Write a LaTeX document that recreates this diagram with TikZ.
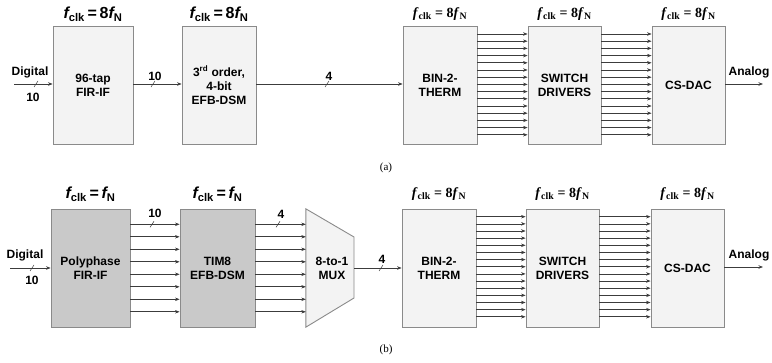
\documentclass[tikz,border=0pt]{standalone}
\usepackage{fontspec}
\setmainfont{Liberation Sans}
\newfontfamily\serifr{Liberation Serif}
\usetikzlibrary{arrows.meta}
\definecolor{bord}{HTML}{8A8A8A}
\definecolor{lightf}{HTML}{F3F3F3}
\definecolor{darkf}{HTML}{C9C9C9}
\definecolor{wire}{HTML}{3C3C3C}
\tikzset{
  blk/.style={draw=bord, line width=0.9pt, fill=lightf, minimum height=118pt, inner sep=0pt, align=center, font=\bfseries\fontsize{12}{14}\selectfont},
  gblk/.style={blk, fill=darkf},
  arr/.style={draw=wire, line width=0.6pt, -{Stealth[length=4.5pt,width=3.5pt]}},
  slashmark/.style={draw=wire, line width=0.5pt},
  lbl/.style={font=\bfseries\fontsize{12}{14}\selectfont, inner sep=0pt},
  fbig/.style={font=\bfseries\fontsize{16}{18}\selectfont, inner sep=0pt},
  fserst/.style={font=\serifr\bfseries\fontsize{14}{16}\selectfont, inner sep=0pt},
  captxt/.style={font=\serifr\fontsize{11}{13}\selectfont, inner sep=0pt}
}
\newcommand{\fbold}{{\bfseries\itshape f}\textsubscript{\bfseries clk}\,=\,8{\bfseries\itshape f}\textsubscript{\bfseries N}}
\newcommand{\fone}{{\bfseries\itshape f}\textsubscript{\bfseries clk}\,=\,{\bfseries\itshape f}\textsubscript{\bfseries N}}
\newcommand{\fser}{\textit{f}\textsubscript{clk} = 8\textit{f}\textsubscript{N}}
\begin{document}
\begin{tikzpicture}[x=1pt,y=-1pt]
\useasboundingbox (0,0) rectangle (772,363);
% ---------------- (a) ----------------
\node[blk, minimum width=80pt] (fira) at (93,85) {96-tap\\FIR-IF};
\node[blk, minimum width=74pt] (dsma) at (219,85) {3\textsuperscript{rd} order,\\4-bit\\EFB-DSM};
\node[blk, minimum width=74pt] (bina) at (440,85) {BIN-2-\\THERM};
\node[blk, minimum width=73pt] (swa) at (564.5,85) {SWITCH\\DRIVERS};
\node[blk, minimum width=73pt] (daca) at (688.5,85) {CS-DAC};
\node[fbig] (fa1) at (93,14) {\fbold};
\node[fbig] (fa2) at (219,14) {\fbold};
\node[fserst] (fa3) at (440,14) {\fser};
\node[fserst] (fa4) at (564.5,14) {\fser};
\node[fserst] (fa5) at (688.5,14) {\fser};
\coordinate (ina) at (14,84);
\coordinate (outa) at (763,84);
\draw[arr] (ina) -- (ina -| fira.west);
\draw[arr] (fira.east |- 0,84) -- (dsma.west |- 0,84);
\draw[arr] (dsma.east |- 0,84) -- (bina.west |- 0,84);
\draw[arr] (daca.east |- 0,84) -- (outa);
\draw[slashmark] (34,87) -- (38,81);
\draw[slashmark] (151,87) -- (155,81);
\draw[slashmark] (325,87) -- (329,81);
\node[lbl] (dga) at (30,72) {Digital};
\node[lbl] (tena) at (33,97) {10};
\node[lbl] (tenb) at (155,76) {10};
\node[lbl] (foura) at (329,76) {4};
\node[lbl, anchor=west] (ana) at (728.5,72) {Analog};
\foreach \i in {0,...,14}{
  \pgfmathsetmacro{\yy}{34+7.2*\i}
  \draw[arr] (bina.east |- 0,\yy) -- (swa.west |- 0,\yy);
  \draw[arr] (swa.east |- 0,\yy) -- (daca.west |- 0,\yy);
}
\node[captxt] (capa) at (386,168) {(a)};
% ---------------- (b) ----------------
\node[gblk, minimum width=79pt] (polyb) at (90.5,268) {Polyphase\\FIR-IF};
\node[gblk, minimum width=75pt] (timb) at (217.5,268) {TIM8\\EFB-DSM};
\node[minimum width=48pt, minimum height=118pt, inner sep=0pt] (mux) at (330,268) {};
\draw[draw=bord, line width=0.9pt, fill=lightf] (mux.north west) -- (354,237) -- (354,298) -- (mux.south west) -- cycle;
\node[font=\bfseries\fontsize{12}{14}\selectfont, align=center, inner sep=0pt] (muxl) at (332,268) {8-to-1\\MUX};
\node[blk, minimum width=74pt] (binb) at (439,268) {BIN-2-\\THERM};
\node[blk, minimum width=73pt] (swb) at (562.5,268) {SWITCH\\DRIVERS};
\node[blk, minimum width=73pt] (dacb) at (687.5,268) {CS-DAC};
\node[fbig] (fb1) at (90.5,194) {\fone};
\node[fbig] (fb2) at (217.5,194) {\fone};
\node[fserst] (fb3) at (439,194) {\fser};
\node[fserst] (fb4) at (562.5,194) {\fser};
\node[fserst] (fb5) at (687.5,194) {\fser};
\coordinate (inb) at (10,268);
\coordinate (outb) at (763,267);
\draw[arr] (inb) -- (inb -| polyb.west);
\draw[arr] (mux.east |- 0,268) -- (binb.west |- 0,268);
\draw[arr] (dacb.east |- 0,267) -- (outb);
\foreach \i in {0,...,7}{
  \pgfmathsetmacro{\yy}{224.3+12.5*\i}
  \draw[arr] (polyb.east |- 0,\yy) -- (timb.west |- 0,\yy);
  \draw[arr] (timb.east |- 0,\yy) -- (mux.west |- 0,\yy);
}
\foreach \i in {0,...,14}{
  \pgfmathsetmacro{\yy}{216.7+7.15*\i}
  \draw[arr] (binb.east |- 0,\yy) -- (swb.west |- 0,\yy);
  \draw[arr] (swb.east |- 0,\yy) -- (dacb.west |- 0,\yy);
}
\draw[slashmark] (30,271) -- (34,265);
\draw[slashmark] (150,227.3) -- (154,221.3);
\draw[slashmark] (276,227.3) -- (280,221.3);
\draw[slashmark] (379,271) -- (383,265);
\node[lbl] (dgb) at (25,255) {Digital};
\node[lbl] (tenc) at (32,280) {10};
\node[lbl] (tend) at (155,213) {10};
\node[lbl] (fourb) at (281,214) {4};
\node[lbl] (fourc) at (382,259) {4};
\node[lbl, anchor=west] (anb) at (728.5,255) {Analog};
\node[captxt] (capb) at (386,350) {(b)};
\end{tikzpicture}
\end{document}
